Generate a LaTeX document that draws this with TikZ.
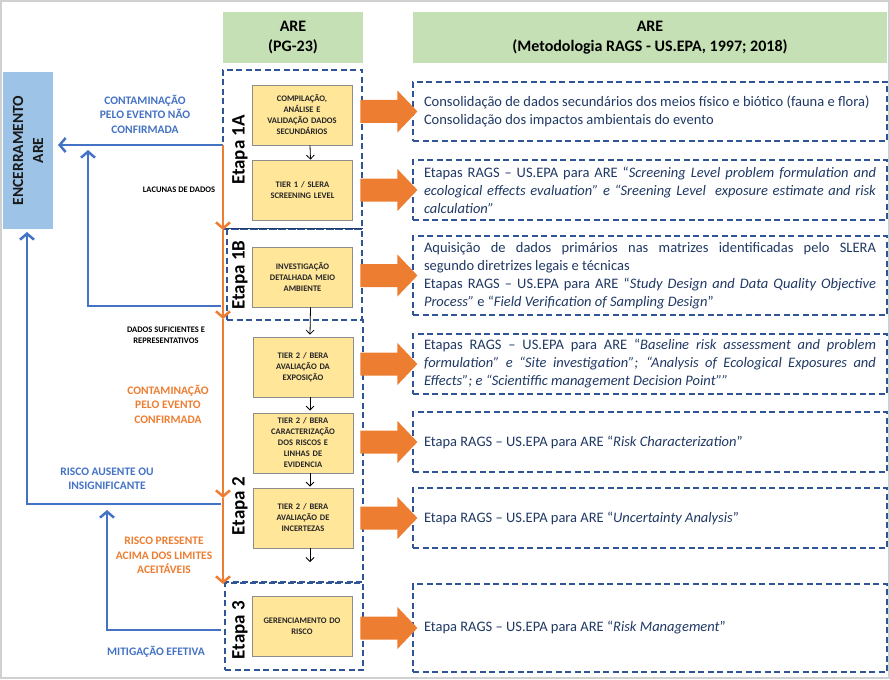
\documentclass[tikz,border=0pt]{standalone}
\usepackage{fontspec}
\setmainfont{Carlito}
\usetikzlibrary{arrows.meta,calc}
\definecolor{cblue}{HTML}{4472C4}
\definecolor{corange}{HTML}{ED7D31}
\definecolor{cgreen}{HTML}{C5E0B4}
\definecolor{cyellow}{HTML}{FFE699}
\definecolor{cencer}{HTML}{9DC3E6}
\definecolor{cdash}{HTML}{2F5597}
\definecolor{ctext}{HTML}{1F3864}
\definecolor{cbox}{HTML}{8C8C8C}
\definecolor{cframe}{HTML}{D0D0D0}
\newcommand{\blockarr}[1]{\fill[corange] ($(#1.west)+(5,0)$) -- ++(-20,-21) -- ++(0,9.5) -- ++(-37,0) -- ++(0,23) -- ++(37,0) -- ++(0,9.5) -- cycle;}
\begin{document}
\begin{tikzpicture}[x=1pt,y=-1pt,
  header/.style={fill=cgreen, minimum height=51pt, inner sep=0pt, align=center, font=\fontsize{16}{20.5}\selectfont\bfseries},
  stagebox/.style={draw=cdash, line width=1.2pt, dash pattern=on 6pt off 3.5pt, inner sep=0pt},
  ybox/.style={draw=cbox, line width=0.8pt, fill=cyellow, minimum width=100pt, minimum height=60pt, inner sep=1pt, text width=94pt, align=center, text=black!85, font=\fontsize{8.5}{11}\selectfont\bfseries},
  rbox/.style={draw=cdash, line width=1.2pt, dash pattern=on 6pt off 3.5pt, text width=452pt, inner xsep=11pt, inner ysep=0pt, align=justify, text=ctext, font=\fontsize{14.5}{18}\selectfont},
  etapa/.style={rotate=90, inner sep=0pt, font=\fontsize{19}{22}\selectfont\bfseries},
  lblblue/.style={text=cblue, align=center, inner sep=0pt, font=\fontsize{11.5}{14.5}\selectfont\bfseries},
  lblorange/.style={text=corange, align=center, inner sep=0pt, font=\fontsize{11.5}{14.5}\selectfont\bfseries},
  lblblack/.style={text=black, align=center, inner sep=0pt, font=\fontsize{8.5}{11}\selectfont\bfseries},
  smallarr/.style={draw=black, line width=0.8pt, -{Straight Barb[length=4pt,width=8pt]}},
  oline/.style={draw=corange, line width=2.5pt, -{Straight Barb[length=6pt,width=14pt]}},
  bline/.style={draw=cblue, line width=2.5pt, -{Straight Barb[length=6pt,width=14pt]}},
  bseg/.style={draw=cblue, line width=2.5pt}
]
\useasboundingbox (0,0) rectangle (890,679);
\draw[cframe, line width=2pt] (1,1) rectangle (889,678);

% headers
\node[header, minimum width=140pt] (h1) at (293,37.5) {ARE\\(PG-23)};
\node[header, minimum width=474pt] (h2) at (650,37.5) {ARE\\(Metodologia RAGS - US.EPA, 1997; 2018)};

% closing box
\node[fill=cencer, minimum width=50pt, minimum height=157pt, inner sep=0pt] (enc) at (28,150.5) {};
\node[rotate=90, align=center, inner sep=0pt, font=\fontsize{15.5}{20}\selectfont\bfseries, text=black!90] (enct) at (enc.center) {ENCERRAMENTO\\ARE};

% stage containers
\node[stagebox, minimum width=139pt, minimum height=159pt] (e1a) at (292.5,149.5) {};
\node[stagebox, minimum width=135pt, minimum height=91pt] (e1b) at (294.5,274.5) {};
\draw[draw=cdash!70!black, line width=1.2pt] (e1b.north west) -- (e1b.north east);
\node[stagebox, minimum width=140pt, minimum height=262pt] (e2) at (293,451) {};
\node[stagebox, minimum width=138pt, minimum height=87pt] (e3) at (294,626.5) {};

\node[etapa] (l1a) at (240,150) {Etapa 1A};
\node[etapa] (l1b) at (240,275) {Etapa 1B};
\node[etapa] (l2) at (240,506) {Etapa 2};
\node[etapa] (l3) at (240,630) {Etapa 3};

% yellow boxes
\node[ybox] (y1) at (302,115) {COMPILAÇÃO,\\ANÁLISE E\\VALIDAÇÃO DADOS\\SECUNDÁRIOS};
\node[ybox] (y2) at (302.5,190) {TIER 1 / SLERA\\SCREENING LEVEL};
\node[ybox] (y3) at (302.5,277) {INVESTIGAÇÃO\\DETALHADA MEIO\\AMBIENTE};
\node[ybox] (y4) at (303,367) {TIER 2 / BERA\\AVALIAÇÃO DA\\EXPOSIÇÃO};
\node[ybox] (y5) at (303,443) {TIER 2 / BERA\\CARACTERIZAÇÃO\\DOS RISCOS E\\LINHAS DE\\EVIDENCIA};
\node[ybox] (y6) at (303,518) {TIER 2 / BERA\\AVALIAÇÃO DE\\INCERTEZAS};
\node[ybox] (y7) at (302,626) {GERENCIAMENTO DO\\RISCO};

\draw[smallarr] ($(y1.south)+(8,0)$) -- ($(y2.north)+(8,0)$);
\draw[smallarr] ($(y3.south)+(8,0)$) -- ($(y4.north)+(7,-2)$);
\draw[smallarr] ($(y4.south)+(7,0)$) -- ($(y5.north)+(7,-2)$);
\draw[smallarr] ($(y5.south)+(7,0)$) -- ($(y6.north)+(7,-1)$);
\coordinate (y6end) at (310,562);
\draw[smallarr] ($(y6.south)+(7,0)$) -- (y6end);

% right boxes
\node[rbox, minimum height=59pt] (r1) at (650,111.5) {Consolidação de dados secundários dos meios físico e biótico (fauna e flora)\par Consolidação dos impactos ambientais do evento};
\node[rbox, minimum height=60pt] (r2) at (650,190) {Etapas RAGS – US.EPA para ARE “\textit{Screening Level problem formulation and}\linebreak \textit{ecological effects evaluation” e “Sreening Level\ \ exposure estimate and risk}\linebreak \textit{calculation”}};
\node[rbox, minimum height=79pt] (r3) at (650,275.5) {Aquisição de dados primários nas matrizes identificadas pelo SLERA\linebreak segundo diretrizes legais e técnicas\par Etapas RAGS – US.EPA para ARE “\textit{Study Design and Data Quality Objective}\linebreak \textit{Process”} e “\textit{Field Verification of Sampling Design}”};
\node[rbox, minimum height=60pt] (r4) at (650,364) {Etapas RAGS – US.EPA para ARE “\textit{Baseline risk assessment and problem}\linebreak \textit{formulation” e “Site investigation”; “Analysis of Ecological Exposures and}\linebreak \textit{Effects”; e “Scientiffic management Decision Point””}};
\node[rbox, minimum height=60pt] (r5) at (650,442) {Etapa RAGS – US.EPA para ARE “\textit{Risk Characterization}”};
\node[rbox, minimum height=60pt] (r6) at (650,518) {Etapa RAGS – US.EPA para ARE “\textit{Uncertainty Analysis}”};
\node[rbox, minimum height=88pt] (r7) at (650,628) {Etapa RAGS – US.EPA para ARE “\textit{Risk Management}”};

% block arrows
\blockarr{r1}
\blockarr{r2}
\blockarr{r3}
\blockarr{r4}
\blockarr{r5}
\blockarr{r6}
\blockarr{r7}

% coordinates for flow lines
\coordinate (o0) at (223,145);
\coordinate (o1) at (223,230);
\coordinate (o2) at (223,319);
\coordinate (o3) at (223,498);
\coordinate (o4) at (223,584);
\coordinate (b1e) at (58,145);
\coordinate (b2s) at (221,306);
\coordinate (b2c) at (88,306);
\coordinate (b2e) at (88,150);
\coordinate (b3s) at (221,504);
\coordinate (b3c) at (27,504);
\coordinate (b3e) at (27,232);
\coordinate (b4s) at (221,630);
\coordinate (b4c) at (107,630);
\coordinate (b4e) at (107,510);

% blue lines
\draw[bline] (o0) -- (b1e);
\draw[bline] (b2s) -- (b2c) -- (b2e);
\draw[bline] (b3s) -- (b3c) -- (b3e);
\draw[bline] (b4s) -- (b4c) -- (b4e);

% orange line
\draw[oline] (o0) -- (o1);
\draw[oline] (o1) -- (o2);
\draw[oline] (o2) -- (o3);
\draw[oline] (o3) -- (o4);

% labels
\node[lblblue] (t1) at (145,114) {CONTAMINAÇÃO\\PELO EVENTO NÃO\\CONFIRMADA};
\node[lblblack] (t2) at (179,190) {LACUNAS DE DADOS};
\node[lblblack] (t3) at (166,335.5) {DADOS SUFICIENTES E\\REPRESENTATIVOS};
\node[lblorange] (t4) at (168,404) {CONTAMINAÇÃO\\PELO EVENTO\\CONFIRMADA};
\node[lblblue] (t5) at (107,479) {RISCO AUSENTE OU\\INSIGNIFICANTE};
\node[lblorange] (t6) at (164,555.5) {RISCO PRESENTE\\ACIMA DOS LIMITES\\ACEITÁVEIS};
\node[lblblue] (t7) at (156,652) {MITIGAÇÃO EFETIVA};
\end{tikzpicture}
\end{document}
